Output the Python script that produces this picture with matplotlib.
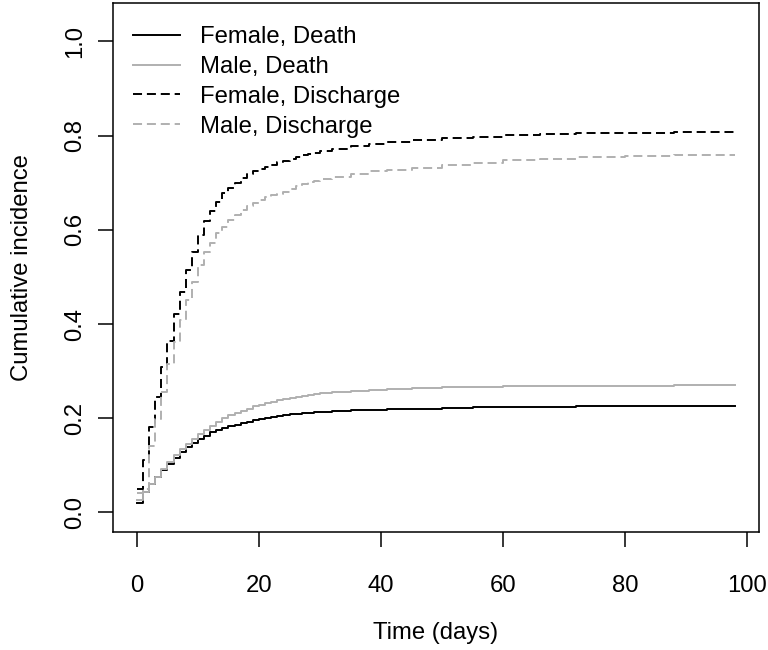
import matplotlib
matplotlib.use("Agg")
import matplotlib.pyplot as plt

plt.rcParams['font.family'] = ['Liberation Sans', 'DejaVu Sans']
plt.rcParams['lines.scale_dashes'] = False

# step times (days) and cumulative incidence
days = [0, 1, 2, 3, 4, 5, 6, 7, 8, 9, 10, 11, 12, 13, 14, 15, 16, 17, 18, 19,
        20, 21, 22, 23, 24, 25, 26, 27, 28, 29, 30,
        32, 35, 38, 41, 45, 50, 55, 60, 66, 72, 80, 88, 98]

female_death = [0.021, 0.044, 0.060, 0.076, 0.089, 0.103, 0.116, 0.128, 0.138, 0.148,
                0.156, 0.163, 0.171, 0.176, 0.180, 0.183, 0.186, 0.189, 0.192, 0.196,
                0.198, 0.200, 0.203, 0.205, 0.207, 0.208, 0.210, 0.211, 0.212, 0.213, 0.214,
                0.215, 0.217, 0.218, 0.219, 0.220, 0.222, 0.223, 0.224, 0.224, 0.225, 0.225, 0.225, 0.226]

male_death = [0.026, 0.044, 0.060, 0.076, 0.092, 0.106, 0.122, 0.135, 0.146, 0.156,
              0.166, 0.176, 0.184, 0.192, 0.200, 0.206, 0.211, 0.216, 0.220, 0.225,
              0.229, 0.232, 0.235, 0.238, 0.240, 0.243, 0.245, 0.248, 0.250, 0.252, 0.253,
              0.255, 0.258, 0.260, 0.262, 0.264, 0.266, 0.267, 0.268, 0.268, 0.269, 0.269, 0.270, 0.270]

female_discharge = [0.050, 0.111, 0.181, 0.244, 0.309, 0.365, 0.422, 0.469, 0.515, 0.553,
                    0.590, 0.618, 0.639, 0.660, 0.678, 0.688, 0.700, 0.710, 0.719, 0.725,
                    0.730, 0.734, 0.738, 0.743, 0.746, 0.750, 0.754, 0.758, 0.761, 0.764, 0.768,
                    0.772, 0.777, 0.782, 0.786, 0.790, 0.795, 0.798, 0.801, 0.803, 0.805, 0.806, 0.807, 0.808]

male_discharge = [0.042, 0.050, 0.141, 0.199, 0.256, 0.316, 0.362, 0.408, 0.450, 0.490,
                  0.525, 0.553, 0.572, 0.593, 0.607, 0.621, 0.632, 0.643, 0.651, 0.658,
                  0.664, 0.669, 0.673, 0.677, 0.681, 0.686, 0.692, 0.697, 0.701, 0.704, 0.707,
                  0.712, 0.718, 0.724, 0.728, 0.732, 0.737, 0.742, 0.748, 0.751, 0.754, 0.756, 0.758, 0.759]

x_ticks = [0, 20, 40, 60, 80, 100]
y_ticks = [0.0, 0.2, 0.4, 0.6, 0.8, 1.0]

fs = 17.2
W, H = 768, 650
left, right, top, bottom = 113, 759, 3, 532
fig = plt.figure(figsize=(W / 100, H / 100), dpi=100)
ax = fig.add_axes([left / W, 1 - bottom / H, (right - left) / W, (bottom - top) / H])

grey = '#b0b0b0'
dash = (0, (6.5, 3.5))
ax.step(days, female_death, where='post', color='black', lw=1.4, label='Female, Death')
ax.step(days, male_death, where='post', color=grey, lw=1.4, label='Male, Death')
ax.step(days, female_discharge, where='post', color='black', lw=1.4, linestyle=dash,
        label='Female, Discharge')
ax.step(days, male_discharge, where='post', color=grey, lw=1.4, linestyle=dash,
        label='Male, Discharge')

# R-style 4% padding; y range as for ylim = c(0, 1.04)
xmax = days[-1]
ax.set_xlim(-0.04 * xmax, 1.04 * xmax)
ax.set_ylim(-0.04 * 1.04, 1.04 * 1.04)
ax.set_xticks(x_ticks)
ax.set_yticks(y_ticks)
ax.set_yticklabels([f"{v:.1f}" for v in y_ticks], rotation=90, va='center')

for s in ax.spines.values():
    s.set_linewidth(1.1)
ax.tick_params(axis='both', direction='out', length=11, width=1.1, labelsize=fs)
ax.tick_params(axis='x', pad=20)
ax.tick_params(axis='y', pad=8)

ax.set_xlabel('Time (days)', fontsize=fs, va='center')
ax.xaxis.set_label_coords(0.5, (bottom - 633) / (bottom - top))
ax.set_ylabel('Cumulative incidence', fontsize=fs, va='center')
ax.yaxis.set_label_coords((22 - left) / (right - left), 0.5)

ax.legend(loc='upper left', bbox_to_anchor=((133 - left) / (right - left), (bottom - 26) / (bottom - top)),
          frameon=False, fontsize=fs, handlelength=1.97, handletextpad=0.84, labelspacing=0.33,
          borderpad=0, borderaxespad=0)

fig.savefig('out.png', dpi=100)
